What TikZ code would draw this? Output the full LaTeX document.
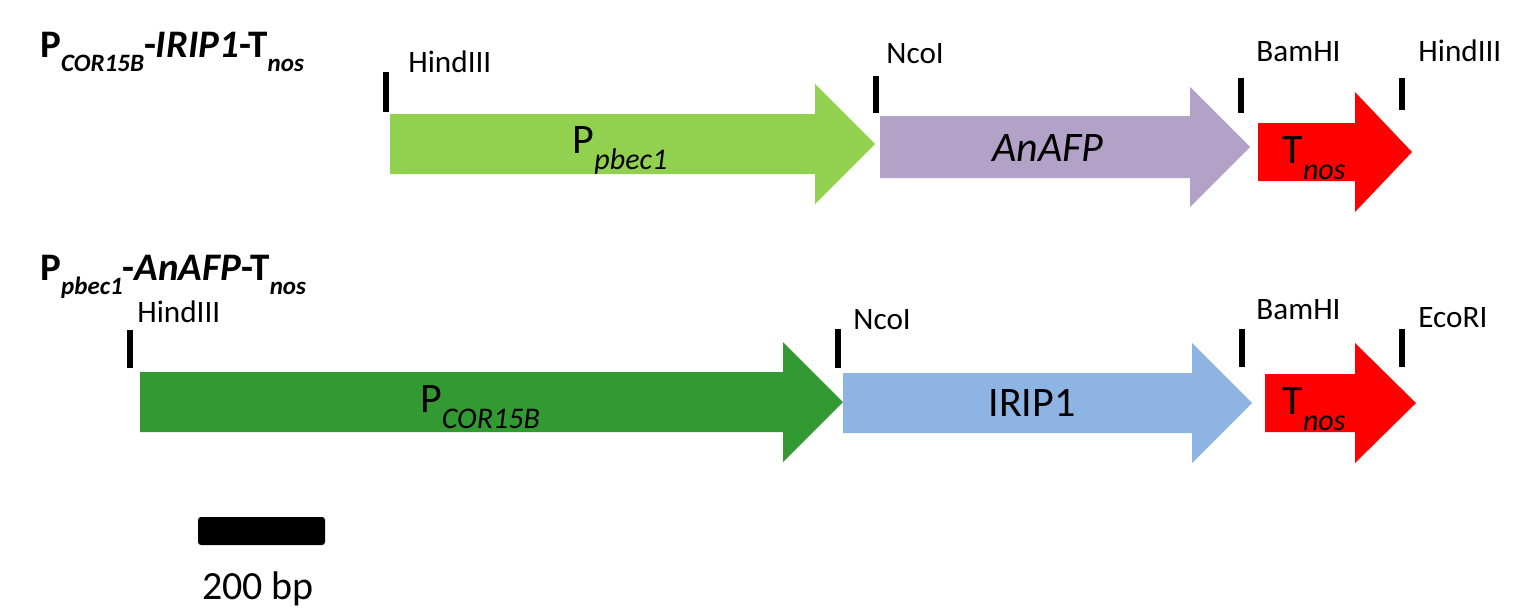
\documentclass[tikz,border=0pt]{standalone}
\usepackage{fontspec}
\setmainfont{Carlito}
\definecolor{lightgreen}{HTML}{92D050}
\definecolor{lavender}{HTML}{B2A2C7}
\definecolor{darkgreen}{HTML}{339933}
\definecolor{lightblue}{HTML}{8EB4E3}
\definecolor{tred}{HTML}{FF0000}
\newcommand\lsub[2]{\raisebox{-0.38em}{\fontsize{#1}{#1}\selectfont #2}}
\newcommand\genearrow[8]{%
  \fill[#2] (#3,#6-#7) -- (#4,#6-#7) -- (#4,#6-#8) -- (#5,#6) -- (#4,#6+#8) -- (#4,#6+#7) -- (#3,#6+#7) -- cycle;
  \coordinate (#1) at ({(#3+#4)/2},#6);}
\begin{document}
\begin{tikzpicture}[x=0.5pt,y=-0.5pt,
  site/.style={line width=2.6pt,black},
  sitelabel/.style={anchor=base west,inner sep=0pt,font=\fontsize{15.6}{18}\selectfont},
  genelabel/.style={inner sep=0pt,font=\fontsize{21}{24}\selectfont},
  title/.style={anchor=base west,inner sep=0pt,font=\fontsize{19.5}{22}\selectfont\bfseries}]
\useasboundingbox (0,0) rectangle (1513,607);

% titles
\node[title] (t1) at (40,57) {P\lsub{12.5}{\textit{COR15B}}-\textit{IRIP1}-T\lsub{12.5}{\textit{nos}}};
\node[title] (t2) at (40,280) {P\lsub{12.5}{\textit{pbec1}}-\textit{AnAFP}-T\lsub{12.5}{\textit{nos}}};

% row 1
\genearrow{g1}{lightgreen}{390}{815}{875}{144}{30}{60}
\genearrow{g2}{lavender}{880}{1190}{1250}{147}{31}{60}
\genearrow{g3}{tred}{1258}{1355}{1412}{152}{29}{60}
\node[genelabel] (l1) at (620,150) {P\lsub{15}{\textit{pbec1}}};
\node[genelabel] (l2) at (1048,148) {\textit{AnAFP}};
\node[genelabel] (l3) at (1314,158) {T\lsub{15}{\textit{nos}}};

\coordinate (s1a) at (386,72);  \coordinate (s1b) at (386,112);
\coordinate (s2a) at (876,76);  \coordinate (s2b) at (876,113);
\coordinate (s3a) at (1241,78); \coordinate (s3b) at (1241,113);
\coordinate (s4a) at (1402,78); \coordinate (s4b) at (1402,110);
\draw[site] (s1a) -- (s1b);
\draw[site] (s2a) -- (s2b);
\draw[site] (s3a) -- (s3b);
\draw[site] (s4a) -- (s4b);
\node[sitelabel] (r1) at (408,72) {HindIII};
\node[sitelabel] (r2) at (886,63) {NcoI};
\node[sitelabel] (r3) at (1256,61) {BamHI};
\node[sitelabel] (r4) at (1418,61) {HindIII};

% row 2
\genearrow{h1}{darkgreen}{140}{783}{843}{402}{30}{60}
\genearrow{h2}{lightblue}{843}{1192}{1252}{403}{30}{60}
\genearrow{h3}{tred}{1265}{1355}{1416}{403}{29}{60}
\node[genelabel] (m1) at (480,407) {P\lsub{15}{\textit{COR15B}}};
\node[genelabel] (m2) at (1032,403) {IRIP1};
\node[genelabel] (m3) at (1314,409) {T\lsub{15}{\textit{nos}}};

\coordinate (u1a) at (130,330);  \coordinate (u1b) at (130,368);
\coordinate (u2a) at (838,329);  \coordinate (u2b) at (838,368);
\coordinate (u3a) at (1242,329); \coordinate (u3b) at (1242,367);
\coordinate (u4a) at (1402,329); \coordinate (u4b) at (1402,367);
\draw[site] (u1a) -- (u1b);
\draw[site] (u2a) -- (u2b);
\draw[site] (u3a) -- (u3b);
\draw[site] (u4a) -- (u4b);
\node[sitelabel] (q1) at (137,322) {HindIII};
\node[sitelabel] (q2) at (853,329) {NcoI};
\node[sitelabel] (q3) at (1256,319) {BamHI};
\node[sitelabel] (q4) at (1418,327) {EcoRI};

% scale bar
\fill[black,rounded corners=1.5pt] (198,517) rectangle (325,545);
\coordinate (bar) at (261,545);
\node[inner sep=0pt,font=\fontsize{20}{24}\selectfont] (bp) at (258,589) {200 bp};
\end{tikzpicture}
\end{document}
